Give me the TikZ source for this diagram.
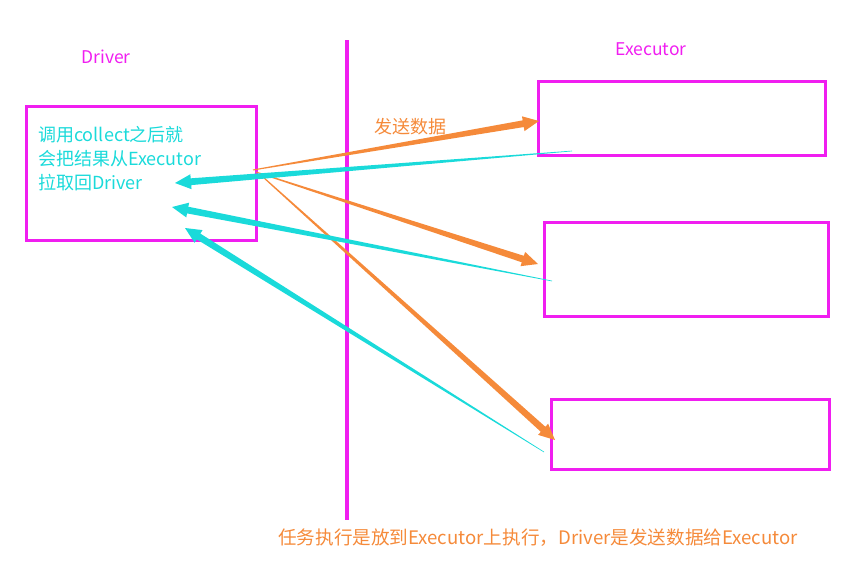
\documentclass[tikz,border=0pt]{standalone}
\usepackage{fontspec}
\setmainfont{Noto Sans CJK SC}
\usepackage{tikz}
\usetikzlibrary{positioning,calc}
\definecolor{sparkmag}{RGB}{240,30,240}
\definecolor{sendorange}{RGB}{245,138,58}
\definecolor{pullcyan}{RGB}{26,218,218}

% tapered arrow: thin at the tail, wide at the head
\newcommand\taperarrow[4]{% from, to, colour, tail half width
  \coordinate (hb) at ($(#2)!16pt!(#1)$);
  \fill[#3] ($(#1)!#4!90:(#2)$) -- ($(hb)!3.4pt!90:(#2)$) -- ($(hb)!7.5pt!90:(#2)$)
    -- (#2) -- ($(hb)!7.5pt!-90:(#2)$) -- ($(hb)!3.4pt!-90:(#2)$)
    -- ($(#1)!#4!-90:(#2)$) -- cycle;
}

\begin{document}
\begin{tikzpicture}[
  x=1pt, y=-1pt,
  box/.style={draw=sparkmag, line width=2.6pt, anchor=north west, inner sep=0pt},
  title/.style={text=sparkmag, font=\fontsize{17.5}{20}\selectfont},
  note/.style={font=\fontsize{18}{24}\selectfont, inner sep=0pt}
]
\useasboundingbox (0,0) rectangle (846,563);

% driver side
\node[title] (drvlabel) at (106,57) {Driver};
\node[box, minimum width=230pt, minimum height=134pt] (driver) at (25,105) {};
\node[note, text=pullcyan, align=left, anchor=north west] (collect) at (38,126)
  {调用collect之后就\\会把结果从Executor\\拉取回Driver};

% divider
\coordinate (divtop) at (347,40);
\coordinate (divbot) at (347,520);
\draw[sparkmag, line width=4pt] (divtop) -- (divbot);

% executor side
\node[title] (exlabel) at (651,49) {Executor};
\node[box, minimum width=287pt, minimum height=74pt] (exec1) at (537,80) {};
\node[box, minimum width=284pt, minimum height=94pt] (exec2) at (543,221) {};
\node[box, minimum width=278pt, minimum height=70pt] (exec3) at (550,398) {};

% send arrows
\coordinate (s1) at (253,170);
\coordinate (s2) at (256,172);
\coordinate (s3) at (263,177);
\coordinate (t1) at (539,121);
\coordinate (t2) at (538,264);
\coordinate (t3) at (555,440);
\taperarrow{s1}{t1}{sendorange}{0.5pt}
\taperarrow{s2}{t2}{sendorange}{0.5pt}
\taperarrow{s3}{t3}{sendorange}{0.6pt}
\node[text=sendorange, font=\fontsize{18}{20}\selectfont] (sendlbl) at (410,127) {发送数据};

% pull arrows
\coordinate (p1) at (572,151);
\coordinate (p2) at (552,281);
\coordinate (p3) at (544,452);
\coordinate (q1) at (175,183);
\coordinate (q2) at (172,207);
\coordinate (q3) at (185,228);
\taperarrow{p1}{q1}{pullcyan}{0.3pt}
\taperarrow{p2}{q2}{pullcyan}{0.3pt}
\taperarrow{p3}{q3}{pullcyan}{0.3pt}

\node[text=sendorange, font=\fontsize{18.6}{20}\selectfont] (summary) at (538,538)
  {任务执行是放到Executor上执行，Driver是发送数据给Executor};
\end{tikzpicture}
\end{document}
